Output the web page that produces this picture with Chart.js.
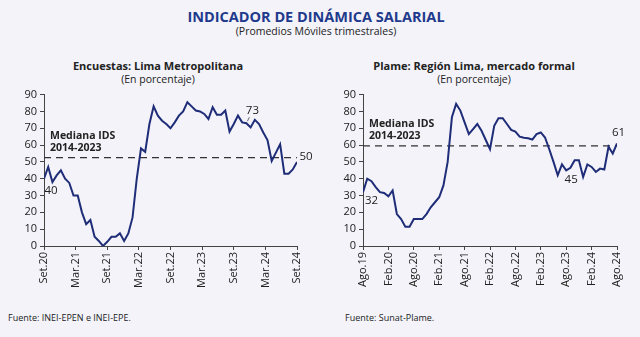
<!DOCTYPE html>
<html>
<head>
<meta charset="utf-8">
<script src="https://cdn.jsdelivr.net/npm/chart.js@4.4.1/dist/chart.umd.min.js"></script>
<style>
  body { margin: 0; width: 640px; height: 337px; background: #f3f3f9; position: relative; overflow: hidden; font-family: "Open Sans", sans-serif; color: #222; }
  .t { position: absolute; white-space: nowrap; text-align: center; }
  #title { left: 0; width: 632px; top: 7px; font-size: 14.5px; font-weight: bold; color: #1f3a8c; }
  #sub { left: 0; width: 632px; top: 24px; font-size: 10.5px; }
  .ct { top: 58px; font-size: 11px; font-weight: bold; }
  .cs { top: 72px; font-size: 10.5px; }
  .src { position: absolute; top: 311px; font-size: 9px; }
  canvas { position: absolute; top: 85px; }
</style>
</head>
<body>
<div class="t" id="title">INDICADOR DE DINÁMICA SALARIAL</div>
<div class="t" id="sub">(Promedios Móviles trimestrales)</div>
<div class="t ct" style="left:0;width:316px">Encuestas: Lima Metropolitana</div>
<div class="t cs" style="left:0;width:316px">(En porcentaje)</div>
<div class="t ct" style="left:320px;width:308px">Plame: Región Lima, mercado formal</div>
<div class="t cs" style="left:320px;width:308px">(En porcentaje)</div>
<canvas id="left" width="320" height="215" style="left:0"></canvas>
<canvas id="right" width="320" height="215" style="left:320px"></canvas>
<div class="src" style="left:8px">Fuente: INEI-EPEN e INEI-EPE.</div>
<div class="src" style="left:345px">Fuente: Sunat-Plame.</div>
<script>
// Encuestas: Lima Metropolitana (Set.20 - Set.24)
const leftValues = [
  40, 47, 38, 42, 45, 40, 37.5, 30, 30, 20,
  13, 15.5, 5.5, 3, 0, 2.5, 5.5, 5.5, 7.5, 3,
  7.5, 17, 40, 58, 56, 72.5, 83, 77.5, 74.5, 72.5,
  70, 73.5, 77.5, 80, 85.5, 83, 80.5, 80, 78.5, 75.5,
  82.5, 78, 78, 80.5, 68, 72.5, 77.5, 73.5, 73, 70.5,
  75, 72.5, 67.5, 63, 50.5, 55.5, 60.5, 43, 43, 45.5,
  50
];
const leftTicks = ['Set.20', 'Mar.21', 'Set.21', 'Mar.22', 'Set.22', 'Mar.23', 'Set.23', 'Mar.24', 'Set.24'];
const leftMedian = 52.5;

// Plame: Región Lima, mercado formal (Ago.19 - Ago.24)
const rightValues = [
  32, 40, 38.5, 35, 32, 31.5, 29.5, 33, 19, 16,
  11.5, 11.5, 16, 16, 16, 19, 23, 26, 29, 36,
  50, 76.5, 84.5, 80.5, 73.5, 66.5, 69.5, 72.5, 68.5, 63,
  57.5, 71.5, 76, 76, 72.5, 69, 68, 65, 64.3, 64,
  63.3, 66.5, 67.5, 64.5, 57.5, 50, 42, 48.5, 45, 46.5,
  51, 51, 41, 48.5, 47, 44, 46, 45.5, 59, 55,
  61
];
const rightTicks = ['Ago.19', 'Feb.20', 'Ago.20', 'Feb.21', 'Ago.21', 'Feb.22', 'Ago.22', 'Feb.23', 'Ago.23', 'Feb.24', 'Ago.24'];
const rightMedian = 59.5;

const medianLabel = ['Mediana IDS', '2014-2023'];
const lineColor = '#1f2d78';
const axisColor = '#444';
const FONT = '"Open Sans", sans-serif';

function notes(median, labels) {
  return {
    id: 'notes',
    beforeDatasetsDraw(chart) {
      const { ctx, chartArea, scales } = chart;
      const y = scales.y.getPixelForValue(median);
      ctx.save();
      ctx.strokeStyle = '#333';
      ctx.lineWidth = 1.2;
      ctx.setLineDash([7, 5]);
      ctx.beginPath();
      ctx.moveTo(chartArea.left, y);
      ctx.lineTo(chartArea.right, y);
      ctx.stroke();
      ctx.setLineDash([]);
      ctx.fillStyle = '#222';
      ctx.font = 'bold 10.5px ' + FONT;
      ctx.textAlign = 'left';
      ctx.textBaseline = 'middle';
      ctx.fillText(medianLabel[0], chartArea.left + 6, y - 22);
      ctx.fillText(medianLabel[1], chartArea.left + 6, y - 10);
      ctx.restore();
    },
    afterDatasetsDraw(chart) {
      const { ctx } = chart;
      const pts = chart.getDatasetMeta(0).data;
      const vals = chart.data.datasets[0].data;
      ctx.save();
      ctx.fillStyle = '#222';
      ctx.strokeStyle = '#444';
      ctx.lineWidth = 0.8;
      ctx.font = '11.5px ' + FONT;
      ctx.textAlign = 'center';
      ctx.textBaseline = 'middle';
      labels.forEach(l => {
        const p = pts[l.i];
        if (l.lead) {
          ctx.beginPath();
          ctx.moveTo(p.x + 1, p.y - 2);
          ctx.lineTo(p.x + 3, p.y - 6);
          ctx.stroke();
        }
        ctx.fillText(String(Math.round(vals[l.i].y)), p.x + l.dx, p.y + l.dy);
      });
      ctx.restore();
    }
  };
}

function makeChart(id, values, ticks, step, median, labels, padLeft) {
  new Chart(document.getElementById(id), {
    type: 'line',
    data: {
      datasets: [{
        data: values.map((v, i) => ({ x: i, y: v })),
        borderColor: lineColor,
        borderWidth: 2,
        pointRadius: 0,
        tension: 0,
        fill: false
      }]
    },
    options: {
      responsive: false,
      devicePixelRatio: 1,
      animation: false,
      layout: { padding: { left: padLeft, right: 23, top: 9, bottom: 4 } },
      plugins: { legend: { display: false }, tooltip: { enabled: false } },
      scales: {
        x: {
          type: 'linear',
          min: 0,
          max: values.length - 1,
          afterFit: s => { s.height = 50; },
          grid: { drawOnChartArea: false, tickLength: 4, color: axisColor },
          border: { color: axisColor, width: 1 },
          ticks: {
            stepSize: step,
            autoSkip: false,
            minRotation: 90,
            maxRotation: 90,
            padding: 2,
            color: '#222',
            font: { family: FONT, size: 11 },
            callback: (v, idx) => ticks[idx]
          }
        },
        y: {
          min: 0,
          max: 90,
          afterFit: s => { s.width = 30; },
          grid: { drawOnChartArea: false, tickLength: 4, color: axisColor },
          border: { color: axisColor, width: 1 },
          ticks: { stepSize: 10, padding: 3, color: '#222', font: { family: FONT, size: 11 } }
        }
      }
    },
    plugins: [notes(median, labels)]
  });
}

makeChart('left', leftValues, leftTicks, 7.5, leftMedian, [
  { i: 0, dx: 7, dy: 12 },
  { i: 48, dx: 6, dy: -12, lead: true },
  { i: 60, dx: 9, dy: -5 }
], 14);

makeChart('right', rightValues, rightTicks, 6, rightMedian, [
  { i: 0, dx: 8.5, dy: 9 },
  { i: 48, dx: 5, dy: 9.5 },
  { i: 60, dx: 1.5, dy: -11 }
], 13);
</script>
</body>
</html>
